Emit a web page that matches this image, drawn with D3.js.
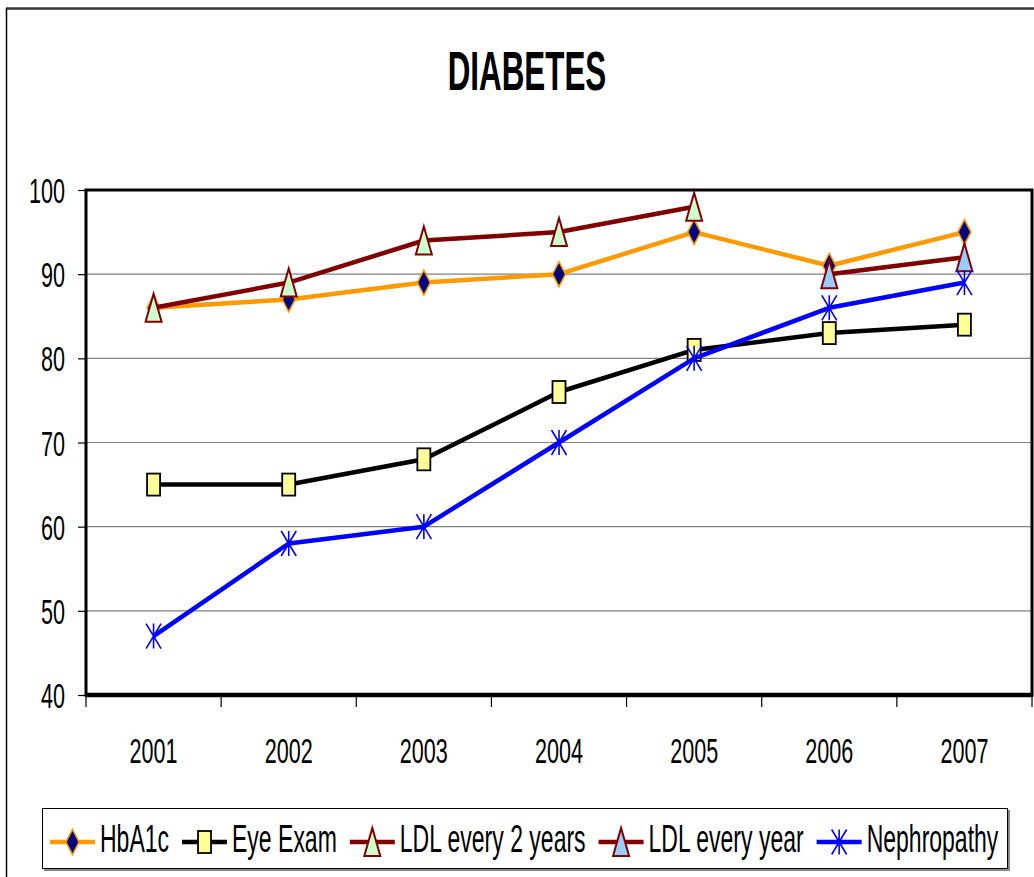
<!DOCTYPE html>
<html>
<head>
<meta charset="utf-8">
<script src="https://cdn.jsdelivr.net/npm/d3@7"></script>
<style>
  html, body { margin: 0; padding: 0; background: #fff; }
  svg { display: block; font-family: "Liberation Sans", Arial, sans-serif; }
</style>
</head>
<body>
<div id="chart"></div>
<script>
// chart data
const years = ["2001", "2002", "2003", "2004", "2005", "2006", "2007"];
const hba1c = [86, 87, 89, 90, 95, 91, 95];
const eyeExam = [65, 65, 68, 76, 81, 83, 84];
const ldlEvery2Years = [86, 89, 94, 95, 98, null, null];
const ldlEveryYear = [null, null, null, null, null, 90, 92];
const nephropathy = [47, 58, 60, 70, 80, 86, 89];
const yTicks = [40, 50, 60, 70, 80, 90, 100];
const seriesNames = ["HbA1c", "Eye Exam", "LDL every 2 years", "LDL every year", "Nephropathy"];

const width = 1034, height = 877;
const margin = { top: 190, right: 2, bottom: 182, left: 86 };
const SX = 0.6; // the original text is squeezed sideways

const svg = d3.select("#chart").append("svg")
    .attr("width", width)
    .attr("height", height)
    .attr("viewBox", [0, 0, width, height]);

// outer chart frame (only top and left show)
svg.append("line").attr("x1", 6).attr("x2", width).attr("y1", 8.5).attr("y2", 8.5)
    .attr("stroke", "#333").attr("stroke-width", 2.5);
svg.append("line").attr("x1", 6.5).attr("x2", 6.5).attr("y1", 8).attr("y2", height)
    .attr("stroke", "#000").attr("stroke-width", 1.5);

// title
svg.append("text")
    .attr("transform", `translate(527,90) scale(0.56,1)`)
    .attr("text-anchor", "middle")
    .attr("font-size", 56)
    .attr("font-weight", "bold")
    .text("DIABETES");

const x = d3.scaleBand()
    .domain(years)
    .range([margin.left, width - margin.right]);

const y = d3.scaleLinear()
    .domain([40, 100])
    .range([height - margin.bottom, margin.top]);

// grid lines
svg.append("g")
    .selectAll("line")
    .data(yTicks.filter(d => d > 40 && d < 100))
    .join("line")
    .attr("x1", margin.left).attr("x2", width - margin.right)
    .attr("y1", d => y(d)).attr("y2", d => y(d))
    .attr("stroke", "#808080").attr("stroke-width", 1.2);

// y axis
const gy = svg.append("g")
    .attr("transform", `translate(${margin.left},0)`)
    .call(d3.axisLeft(y).tickValues(yTicks).tickSize(8).tickSizeOuter(0));
gy.select(".domain").remove();
gy.selectAll(".tick line").attr("stroke", "#000").attr("stroke-width", 1.2);
gy.selectAll(".tick text")
    .attr("x", null).attr("dy", null)
    .attr("transform", `translate(-21,12.5) scale(${SX},1)`)
    .attr("font-size", 36)
    .attr("font-family", null)
    .attr("fill", "#000");

// x axis: ticks between categories, labels at centres
const xEdges = years.map(d => x(d)).concat([x.range()[1]]);
svg.append("g")
    .selectAll("line")
    .data(xEdges)
    .join("line")
    .attr("x1", d => d).attr("x2", d => d)
    .attr("y1", y(40)).attr("y2", y(40) + 12)
    .attr("stroke", "#000").attr("stroke-width", 1.2);

const gx = svg.append("g")
    .attr("transform", `translate(0,${y(40)})`)
    .call(d3.axisBottom(x).tickSize(0));
gx.select(".domain").remove();
gx.selectAll(".tick text")
    .attr("y", null).attr("dy", null)
    .attr("transform", `translate(0,68) scale(${SX},1)`)
    .attr("font-size", 36)
    .attr("font-family", null)
    .attr("fill", "#000");

// plot frame
svg.append("rect")
    .attr("x", margin.left).attr("y", margin.top)
    .attr("width", width - margin.right - margin.left)
    .attr("height", y(40) - margin.top)
    .attr("fill", "none").attr("stroke", "#000").attr("stroke-width", 3);
svg.append("line")
    .attr("x1", margin.left - 1).attr("x2", width - margin.right + 1)
    .attr("y1", y(40)).attr("y2", y(40))
    .attr("stroke", "#000").attr("stroke-width", 4.5);

// markers
function drawMarker(g, type, fill, stroke) {
    if (type === "diamond") {
        g.append("path").attr("d", "M0,-12.5L6.5,0L0,12.5L-6.5,0Z")
            .attr("fill", fill).attr("stroke", stroke).attr("stroke-width", 1.5);
    } else if (type === "square") {
        g.append("rect").attr("x", -6.5).attr("y", -11).attr("width", 13).attr("height", 22)
            .attr("fill", fill).attr("stroke", stroke).attr("stroke-width", 1.8);
    } else if (type === "triangle") {
        g.append("path").attr("d", "M0,-14L8,14L-8,14Z")
            .attr("fill", fill).attr("stroke", stroke).attr("stroke-width", 2);
    } else if (type === "star") {
        g.append("path").attr("d", "M0,-12.5V12.5M-7.5,-12.5L7.5,12.5M7.5,-12.5L-7.5,12.5")
            .attr("fill", "none").attr("stroke", stroke).attr("stroke-width", 1.6);
    }
}

const series = [
    { name: seriesNames[0], values: hba1c, line: "#FF9900", marker: "diamond", fill: "#000080", mstroke: "#FF9900" },
    { name: seriesNames[1], values: eyeExam, line: "#000000", marker: "square", fill: "#FFFF99", mstroke: "#000000" },
    { name: seriesNames[2], values: ldlEvery2Years, line: "#800000", marker: "triangle", fill: "#CCFFCC", mstroke: "#800000" },
    { name: seriesNames[3], values: ldlEveryYear, line: "#800000", marker: "triangle", fill: "#99CCFF", mstroke: "#800000" },
    { name: seriesNames[4], values: nephropathy, line: "#0000FF", marker: "star", fill: "none", mstroke: "#0000FF" }
];

const cx = d => x(d) + x.bandwidth() / 2;
const line = d3.line()
    .defined(d => d.v != null)
    .x(d => cx(d.year))
    .y(d => y(d.v));

series.forEach(s => {
    const pts = years.map((yr, i) => ({ year: yr, v: s.values[i] }));
    svg.append("path")
        .datum(pts)
        .attr("fill", "none")
        .attr("stroke", s.line)
        .attr("stroke-width", 4.5)
        .attr("stroke-linejoin", "round")
        .attr("d", line);
    pts.filter(p => p.v != null).forEach(p => {
        const g = svg.append("g").attr("transform", `translate(${cx(p.year)},${y(p.v)})`);
        drawMarker(g, s.marker, s.fill, s.mstroke);
    });
});

// legend
const legend = svg.append("g");
legend.append("rect")
    .attr("x", 44).attr("y", 810).attr("width", 966).attr("height", 61)
    .attr("fill", "#888");
legend.append("rect")
    .attr("x", 42.5).attr("y", 808.5).attr("width", 965).attr("height", 60)
    .attr("fill", "#fff").attr("stroke", "#000").attr("stroke-width", 1);

const LSX = 0.59;
let lx = 50;
const ly = 842;
series.forEach(s => {
    legend.append("line")
        .attr("x1", lx).attr("x2", lx + 45)
        .attr("y1", ly).attr("y2", ly)
        .attr("stroke", s.line).attr("stroke-width", 4.5);
    const g = legend.append("g").attr("transform", `translate(${lx + 22.5},${ly})`);
    drawMarker(g, s.marker, s.fill, s.mstroke);
    const t = legend.append("text")
        .attr("transform", `translate(${lx + 50},852) scale(${LSX},1)`)
        .attr("font-size", 39)
        .attr("fill", "#000")
        .text(s.name);
    lx += 50 + t.node().getComputedTextLength() * LSX + 13;
});
</script>
</body>
</html>
